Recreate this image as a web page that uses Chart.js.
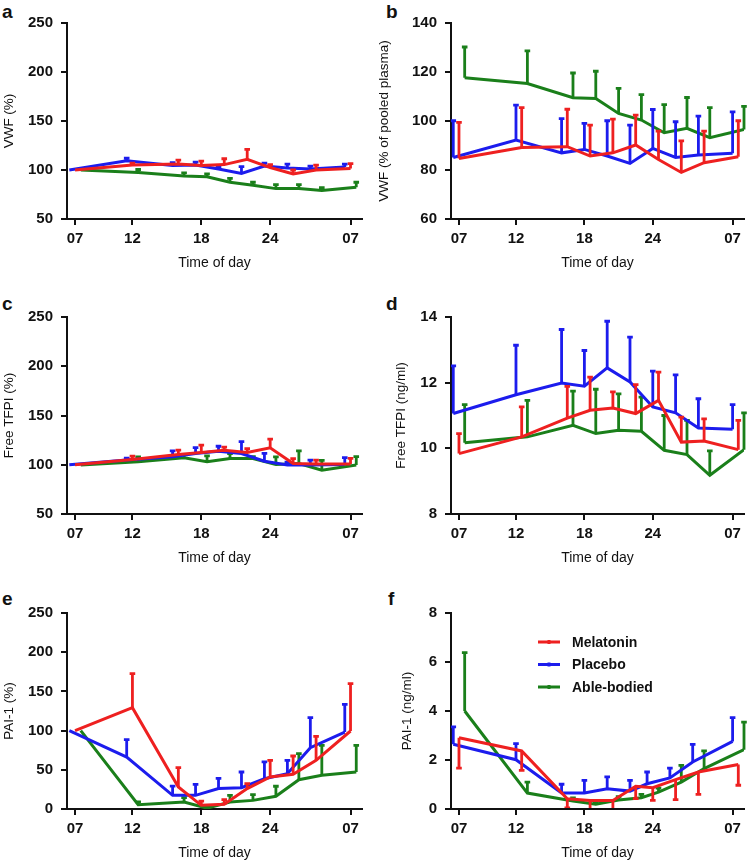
<!DOCTYPE html>
<html>
<head>
<meta charset="utf-8">
<script src="https://cdn.jsdelivr.net/npm/chart.js@4.4.1/dist/chart.umd.min.js"></script>
<style>
  body { margin: 0; width: 748px; height: 863px; overflow: hidden; background: #fff; }
  canvas { position: absolute; }
  .tag { position: absolute; font: bold 19px/19px "Liberation Sans", Arial, sans-serif; color: #111; }
</style>
</head>
<body>
<div class="tag" style="left:2px;top:2px">a</div>
<div class="tag" style="left:386px;top:2px">b</div>
<div class="tag" style="left:2px;top:294px">c</div>
<div class="tag" style="left:386px;top:294px">d</div>
<div class="tag" style="left:2px;top:589px">e</div>
<div class="tag" style="left:388px;top:589px">f</div>

<canvas id="a" width="374" height="273" style="left:0;top:0"></canvas>
<canvas id="b" width="374" height="273" style="left:374px;top:0"></canvas>
<canvas id="c" width="374" height="283" style="left:0;top:285px"></canvas>
<canvas id="d" width="374" height="283" style="left:374px;top:285px"></canvas>
<canvas id="e" width="374" height="293" style="left:0;top:570px"></canvas>
<canvas id="f" width="374" height="293" style="left:374px;top:570px"></canvas>

<script>
const tickHours = [7, 12, 18, 24, 31];
const tickLabels = ['07', '12', '18', '24', '07'];
const seriesNames = ['Melatonin', 'Placebo', 'Able-bodied'];

// sampling times (h), slightly staggered per group
const hoursMelL = [7, 12, 16, 18, 20, 22, 24, 26, 28, 31];
const hoursPlaL = [6.5, 11.5, 15.5, 17.5, 19.5, 21.5, 23.5, 25.5, 27.5, 30.5];
const hoursAblL = [7.5, 12.5, 16.5, 18.5, 20.5, 22.5, 24.5, 26.5, 28.5, 31.5];
const hoursMelR = [7, 12.5, 16.5, 18.5, 20.5, 22.5, 24.5, 26.5, 28.5, 31.5];
const hoursPlaR = [6.5, 12, 16, 18, 20, 22, 24, 26, 28, 31];
const hoursAblR = [7.5, 13, 17, 19, 21, 23, 25, 27, 29, 32];
const hoursMelF = [7, 12.5, 16.5, 18.5, 20.5, 22.5, 24, 26, 28, 31.5];
const hoursPlaF = [6.5, 12, 16, 18, 20, 22, 23.5, 25.5, 27.5, 31];
const hoursAblF = [7.5, 13, 17, 19, 21, 23, 24.5, 26.5, 28.5, 32];

// a: VWF (%)
const aMel = [100, 105, 106, 104.5, 105.5, 111, 102.5, 96, 100, 101.5];
const aMelErr = [0, 2, 4, 4.5, 6, 10, 3, 4, 5, 5];
const aPla = [100, 109.5, 104.5, 105, 101, 96.5, 104, 102, 101, 103];
const aPlaErr = [0, 2.5, 3, 3, 2, 7, 3, 4, 3, 3];
const aAbl = [100, 97.5, 94, 93, 87.5, 84.5, 81, 81, 79, 82.5];
const aAblErr = [0, 3, 3, 3, 4, 3, 4, 4, 3, 5];

// b: VWF (% of pooled plasma)
const bMel = [84.7, 89.2, 89.5, 85.7, 87, 90.2, 84.3, 79, 83, 85.4];
const bMelErr = [14.7, 16.3, 15.3, 12.6, 13.8, 12.2, 11.6, 12.9, 12.9, 14.7];
const bPla = [85.1, 92.2, 87, 88.4, 85.7, 82.7, 88.8, 85.1, 86.1, 86.8];
const bPlaErr = [15, 14.3, 14, 10.6, 14.4, 15.6, 15.9, 14.6, 15.9, 16.9];
const bAbl = [117.7, 115.3, 109.5, 109.2, 103.1, 100.4, 95.2, 97, 93.2, 96.5];
const bAblErr = [12.5, 13.3, 10.1, 11.1, 10.2, 10.4, 11.5, 12.6, 12.3, 9.5];

// c: Free TFPI (%)
const cMel = [100, 105.3, 110.4, 112.4, 114.8, 112.4, 117.2, 101.3, 100.7, 100.7];
const cMelErr = [0, 3.4, 4.4, 7.5, 3, 4, 8.8, 5, 4, 5.7];
const cPla = [100, 104.8, 108.1, 111.4, 113.8, 111.4, 103.6, 99.7, 99.7, 100.3];
const cPlaErr = [0, 2, 6, 6, 5, 12, 8, 3, 5, 7];
const cAbl = [99.7, 103, 107, 103, 106.3, 106.3, 100.2, 101.2, 94.5, 99.7];
const cAblErr = [0, 5, 3.4, 6, 5, 2, 7.8, 12.9, 10, 8.5];

// d: Free TFPI (ng/ml)
const dMel = [9.84, 10.35, 10.92, 11.16, 11.23, 11.06, 11.46, 10.19, 10.22, 9.96];
const dMelErr = [0.61, 0.91, 0.97, 1.01, 0.49, 0.88, 0.86, 0.76, 0.68, 0.89];
const dPla = [11.06, 11.63, 11.99, 11.89, 12.45, 12.02, 11.26, 11.08, 10.62, 10.58];
const dPlaErr = [1.45, 1.51, 1.63, 1.09, 1.42, 1.37, 1.09, 1.16, 0.89, 0.75];
const dAbl = [10.17, 10.35, 10.7, 10.45, 10.55, 10.52, 9.94, 9.81, 9.18, 9.96];
const dAblErr = [1.16, 1.11, 1.04, 1.35, 1.11, 1.04, 1.06, 1.04, 0.74, 1.12];

// e: PAI-1 (%)
const eMel = [100, 129.3, 28, 4.7, 6, 26, 40.8, 44.2, 62, 99.5];
const eMelErr = [0, 43.3, 24.7, 5.3, 6, 6.3, 21.2, 23.4, 30.7, 60.4];
const ePla = [100, 66.3, 17.4, 17.4, 26, 27.2, 38.7, 45, 78.2, 98.2];
const ePlaErr = [0, 22.1, 11.9, 14.1, 13, 20, 21.3, 17, 38.3, 35.3];
const eAbl = [100, 5.5, 9, 1, 9, 11, 16.2, 37.4, 43, 47.2];
const eAblErr = [0, 3.5, 5.5, 1.5, 8.4, 7.3, 12.8, 33.2, 38.2, 34];

// f: PAI-1 (ng/ml), melatonin SEM drawn downwards
const fMel = [2.91, 2.37, 0.42, 0.35, 0.35, 0.93, 0.87, 1.2, 1.51, 1.82];
const fMelErr = [1.24, 0.79, 0.37, 0.45, 0.45, 0.51, 0.52, 0.82, 0.91, 0.85];
const fPla = [2.64, 2.01, 0.65, 0.65, 0.83, 0.73, 1.03, 1.27, 1.92, 2.76];
const fPlaErr = [0.71, 0.66, 0.36, 0.52, 0.48, 0.44, 0.48, 0.4, 0.72, 0.97];
const fAbl = [4.0, 0.65, 0.33, 0.19, 0.37, 0.46, 0.69, 1.1, 1.65, 2.42];
const fAblErr = [2.38, 0.45, 0.12, 0.1, 0.13, 0.14, 0.16, 0.68, 0.72, 1.13];

const colors = ['#ee2020', '#1c1ced', '#1a7f1a'];
const FONT = '"Liberation Sans", Arial, sans-serif';

// one-sided SEM bars with a small cap
const errorBars = {
  id: 'errorBars',
  afterDatasetDraw(chart, args) {
    const ds = chart.data.datasets[args.index];
    if (!ds.err) return;
    const { ctx, chartArea, scales: { x, y } } = chart;
    ctx.save();
    ctx.beginPath();
    ctx.rect(chartArea.left, chartArea.top - 3, chartArea.width + 3, chartArea.height + 2);
    ctx.clip();
    ctx.strokeStyle = ds.borderColor;
    ctx.lineWidth = 2.8;
    ds.data.forEach((p, i) => {
      const e = ds.err[i];
      if (!e) return;
      const px = x.getPixelForValue(p.x);
      const y0 = y.getPixelForValue(p.y);
      const y1 = y.getPixelForValue(p.y + ds.errDir * e);
      ctx.beginPath();
      ctx.moveTo(px, y0);
      ctx.lineTo(px, y1);
      ctx.moveTo(px - 2.8, y1);
      ctx.lineTo(px + 2.8, y1);
      ctx.stroke();
    });
    ctx.restore();
  }
};

// legend inside the plot of panel f
const insideLegend = {
  id: 'insideLegend',
  afterDraw(chart, args, opts) {
    if (!opts.show) return;
    const { ctx, chartArea } = chart;
    ctx.save();
    chart.data.datasets.forEach((ds, i) => {
      const y = chartArea.top + 29 + i * 22.5;
      const x0 = chartArea.left + 87;
      ctx.strokeStyle = ds.borderColor;
      ctx.lineWidth = 3;
      ctx.beginPath();
      ctx.moveTo(x0, y);
      ctx.lineTo(x0 + 22, y);
      ctx.moveTo(x0 + 11, y - 2);
      ctx.lineTo(x0 + 11, y + 2);
      ctx.stroke();
      ctx.fillStyle = '#111';
      ctx.font = 'bold 14px ' + FONT;
      ctx.textBaseline = 'middle';
      ctx.fillText(ds.label, x0 + 34, y + 1);
    });
    ctx.restore();
  }
};

function makePanel(id, p) {
  const series = [
    { hours: p.hours[0], values: p.values[0], err: p.errs[0], dir: p.dirs ? p.dirs[0] : 1 },
    { hours: p.hours[1], values: p.values[1], err: p.errs[1], dir: 1 },
    { hours: p.hours[2], values: p.values[2], err: p.errs[2], dir: 1 },
  ];
  new Chart(document.getElementById(id), {
    type: 'line',
    data: {
      datasets: series.map((s, k) => ({
        label: seriesNames[k],
        data: s.hours.map((h, i) => ({ x: h, y: s.values[i] })),
        err: s.err,
        errDir: s.dir,
        borderColor: colors[k],
        borderWidth: 3,
        pointRadius: 0,
        tension: 0,
        fill: false,
      })),
    },
    options: {
      responsive: false,
      animation: false,
      layout: { padding: { top: p.padTop, right: p.padRight, left: 0, bottom: 0 } },
      plugins: {
        legend: { display: false },
        tooltip: { enabled: false },
        insideLegend: { show: !!p.legend },
      },
      scales: {
        x: {
          type: 'linear',
          min: 6.3,
          max: 32,
          afterBuildTicks: (s) => { s.ticks = tickHours.map(v => ({ value: v })); },
          afterFit: (s) => { s.height = 54; },
          ticks: {
            autoSkip: false,
            maxRotation: 0,
            padding: 5,
            color: '#111',
            font: { family: FONT, size: 15, weight: 'bold' },
            callback: (v, i) => tickLabels[i],
          },
          grid: { drawOnChartArea: false, drawTicks: true, tickLength: 6, color: '#111', lineWidth: 2 },
          border: { display: true, color: '#111', width: 2 },
          title: {
            display: true,
            text: 'Time of day',
            color: '#111',
            padding: { top: 0, bottom: 1 },
            font: { family: FONT, size: 14 },
          },
        },
        y: {
          min: p.min,
          max: p.max,
          afterFit: (s) => { s.width = p.yWidth; },
          ticks: {
            stepSize: p.step,
            padding: 8,
            color: '#111',
            font: { family: FONT, size: 15, weight: 'bold' },
          },
          grid: { drawOnChartArea: false, drawTicks: true, tickLength: 6, color: '#111', lineWidth: 2 },
          border: { display: true, color: '#111', width: 2 },
          title: {
            display: true,
            text: p.yTitle,
            color: '#111',
            padding: { top: p.titlePad, bottom: 0 },
            font: { family: FONT, size: 13.5 },
          },
        },
      },
    },
    plugins: [errorBars, insideLegend],
  });
}

const hoursL = [hoursMelL, hoursPlaL, hoursAblL];
const hoursR = [hoursMelR, hoursPlaR, hoursAblR];
const hoursF = [hoursMelF, hoursPlaF, hoursAblF];

makePanel('a', { hours: hoursL, values: [aMel, aPla, aAbl], errs: [aMelErr, aPlaErr, aAblErr],
  yTitle: 'VWF (%)', min: 50, max: 250, step: 50, padTop: 23, padRight: 12, yWidth: 67, titlePad: 1 });
makePanel('b', { hours: hoursR, values: [bMel, bPla, bAbl], errs: [bMelErr, bPlaErr, bAblErr],
  yTitle: 'VWF (% of pooled plasma)', min: 60, max: 140, step: 20, padTop: 23, padRight: 4, yWidth: 77, titlePad: 2 });
makePanel('c', { hours: hoursL, values: [cMel, cPla, cAbl], errs: [cMelErr, cPlaErr, cAblErr],
  yTitle: 'Free TFPI (%)', min: 50, max: 250, step: 50, padTop: 32, padRight: 12, yWidth: 67, titlePad: 1 });
makePanel('d', { hours: hoursR, values: [dMel, dPla, dAbl], errs: [dMelErr, dPlaErr, dAblErr],
  yTitle: 'Free TFPI (ng/ml)', min: 8, max: 14, step: 2, padTop: 32, padRight: 4, yWidth: 77, titlePad: 19 });
makePanel('e', { hours: hoursL, values: [eMel, ePla, eAbl], errs: [eMelErr, ePlaErr, eAblErr],
  yTitle: 'PAI-1 (%)', min: 0, max: 250, step: 50, padTop: 43, padRight: 12, yWidth: 67, titlePad: 1 });
makePanel('f', { hours: hoursF, values: [fMel, fPla, fAbl], errs: [fMelErr, fPlaErr, fAblErr], dirs: [-1],
  yTitle: 'PAI-1 (ng/ml)', min: 0, max: 8, step: 2, padTop: 43, padRight: 4, yWidth: 77, titlePad: 25, legend: true });
</script>
</body>
</html>
